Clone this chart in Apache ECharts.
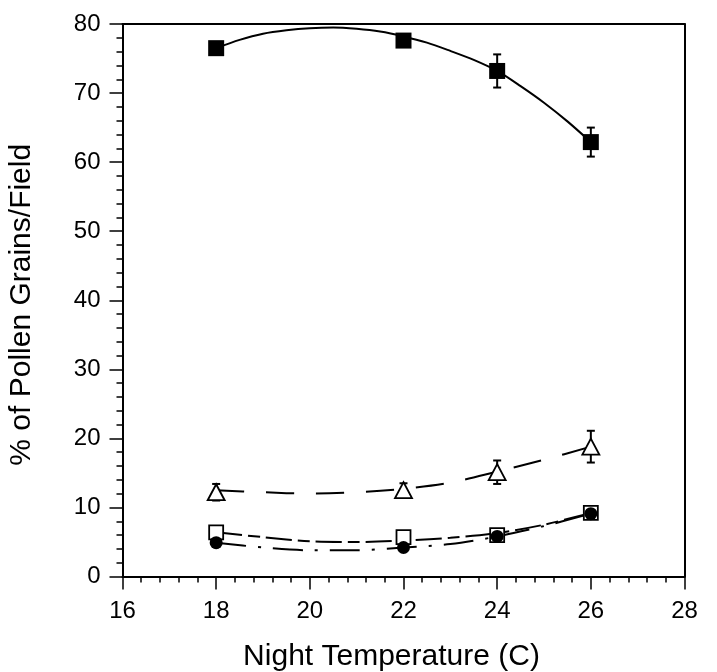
<!DOCTYPE html>
<html>
<head>
<meta charset="utf-8">
<script src="https://cdn.jsdelivr.net/npm/echarts@6/dist/echarts.min.js"></script>
<style>
html,body{margin:0;padding:0;background:#fff;}
#chart{width:717px;height:672px;}
</style>
</head>
<body>
<div id="chart"></div>
<script>
// Measured points (Night temperature, C)
const temps = [18, 22, 24, 26];
const filledSquares = [76.5, 77.6, 73.2, 62.9];
const filledSquaresErr = [0.8, 0.8, 2.4, 2.1];
const triangles = [12.2, 12.5, 15.1, 18.8];
const trianglesErr = [1.2, 1.0, 1.7, 2.3];
const openSquares = [6.4, 5.7, 6.0, 9.2];
const openSquaresErr = [0.4, 0.4, 0.6, 0.6];
const circles = [4.9, 4.2, 5.8, 9.1];
const circlesErr = [0.4, 0.4, 0.6, 0.6];

// Fitted curves
const filledCurveX = [18, 18.5, 19, 19.5, 20, 20.5, 21, 21.5, 22, 22.5, 23, 23.5, 24, 24.5, 25, 25.5, 26];
const filledSquaresCurve = [76.5, 77.7, 78.6, 79.1, 79.4, 79.5, 79.3, 78.9, 78.2, 77.3, 76.1, 74.8, 73.2, 71.0, 68.6, 65.9, 62.9];
const curveX = [18, 19, 20, 21, 22, 23, 24, 25, 26];
const trianglesCurve = [12.5, 12.2, 12.0, 12.2, 12.7, 13.6, 15.2, 16.9, 18.8];
const openSquaresCurve = [6.4, 5.7, 5.1, 5.0, 5.2, 5.6, 6.3, 7.5, 9.2];
const circlesCurve = [4.9, 4.2, 3.8, 3.8, 4.2, 4.7, 5.8, 7.3, 9.1];

const xTicks = [16, 18, 20, 22, 24, 26, 28];
const yTicks = [0, 10, 20, 30, 40, 50, 60, 70, 80];

const FONT = '"Liberation Sans", Arial, Helvetica, sans-serif';

function pairs(xs, ys) { return xs.map((x, i) => [x, ys[i]]); }
function errData(xs, ys, es) { return xs.map((x, i) => [x, ys[i] - es[i], ys[i] + es[i]]); }

function errorBarRender(params, api) {
  const x = api.value(0);
  const lo = api.coord([x, api.value(1)]);
  const hi = api.coord([x, api.value(2)]);
  const w = 4;
  const style = { stroke: '#000', lineWidth: 2, fill: null };
  return {
    type: 'group',
    children: [
      { type: 'line', shape: { x1: hi[0], y1: hi[1], x2: lo[0], y2: lo[1] }, style: style },
      { type: 'line', shape: { x1: hi[0] - w, y1: hi[1], x2: hi[0] + w, y2: hi[1] }, style: style },
      { type: 'line', shape: { x1: lo[0] - w, y1: lo[1], x2: lo[0] + w, y2: lo[1] }, style: style }
    ]
  };
}

function errSeries(data) {
  return {
    type: 'custom', renderItem: errorBarRender, data: data,
    encode: { x: 0, y: [1, 2] }, z: 3, silent: true
  };
}

function curveSeries(data, type) {
  return {
    type: 'line', data: data, smooth: 0.3, showSymbol: false, symbol: 'none',
    lineStyle: { color: '#000', width: 2, type: type }, z: 2, silent: true
  };
}

const chart = echarts.init(document.getElementById('chart'), null, { renderer: 'canvas' });

const axisLabelStyle = { color: '#000', fontSize: 24, fontFamily: FONT };

chart.setOption({
  animation: false,
  backgroundColor: '#fff',
  grid: { left: 122.5, right: 32.5, top: 24, bottom: 95.5, containLabel: false, outerBoundsMode: 'none' },
  xAxis: [{
    type: 'value', min: xTicks[0], max: xTicks[xTicks.length - 1], interval: 2,
    name: 'Night Temperature (C)', nameLocation: 'middle', nameGap: 65,
    nameTextStyle: { color: '#000', fontSize: 30, fontFamily: FONT, padding: [0, 24, 0, 0] },
    axisLine: { show: true, onZero: false, lineStyle: { color: '#000', width: 2 } },
    axisTick: { show: true, inside: false, length: 13, lineStyle: { color: '#000', width: 1.5 } },
    minorTick: { show: true, splitNumber: 5, length: 6, lineStyle: { color: '#000', width: 1.5 } },
    axisLabel: Object.assign({ margin: 23 }, axisLabelStyle),
    splitLine: { show: false }
  }, {
    type: 'value', position: 'top', min: xTicks[0], max: xTicks[xTicks.length - 1], interval: 2,
    axisLine: { show: true, onZero: false, lineStyle: { color: '#000', width: 2 } },
    axisTick: { show: false }, axisLabel: { show: false }, splitLine: { show: false }
  }],
  yAxis: [{
    type: 'value', min: yTicks[0], max: yTicks[yTicks.length - 1], interval: 10,
    name: '% of Pollen Grains/Field', nameLocation: 'middle', nameGap: 86,
    nameTextStyle: { color: '#000', fontSize: 30, fontFamily: FONT, padding: [0, 9, 0, 0] },
    axisLine: { show: true, onZero: false, lineStyle: { color: '#000', width: 2 } },
    axisTick: { show: true, inside: false, length: 13, lineStyle: { color: '#000', width: 1.5 } },
    minorTick: { show: true, splitNumber: 5, length: 6, lineStyle: { color: '#000', width: 1.5 } },
    axisLabel: Object.assign({ margin: 22 }, axisLabelStyle),
    splitLine: { show: false }
  }, {
    type: 'value', position: 'right', min: yTicks[0], max: yTicks[yTicks.length - 1], interval: 10,
    axisLine: { show: true, onZero: false, lineStyle: { color: '#000', width: 2 } },
    axisTick: { show: false }, axisLabel: { show: false }, splitLine: { show: false }
  }],
  series: [
    curveSeries(pairs(filledCurveX, filledSquaresCurve), 'solid'),
    curveSeries(pairs(curveX, trianglesCurve), [28, 22]),
    curveSeries(pairs(curveX, openSquaresCurve), [26, 6, 12, 6]),
    curveSeries(pairs(curveX, circlesCurve), [30, 12, 3, 12]),
    errSeries(errData(temps, filledSquares, filledSquaresErr)),
    errSeries(errData(temps, triangles, trianglesErr)),
    errSeries(errData(temps, openSquares, openSquaresErr)),
    errSeries(errData(temps, circles, circlesErr)),
    {
      type: 'scatter', data: pairs(temps, filledSquares), symbol: 'rect', symbolSize: 16,
      itemStyle: { color: '#000', opacity: 1 }, z: 5, silent: true
    },
    {
      type: 'scatter', data: pairs(temps, triangles), symbol: 'triangle', symbolSize: [17, 16],
      itemStyle: { color: '#fff', borderColor: '#000', borderWidth: 1.8, opacity: 1 }, z: 5, silent: true
    },
    {
      type: 'scatter', data: pairs(temps, openSquares), symbol: 'rect', symbolSize: 14,
      itemStyle: { color: '#fff', borderColor: '#000', borderWidth: 1.8, opacity: 1 }, z: 5, silent: true
    },
    {
      type: 'scatter', data: pairs(temps, circles), symbol: 'circle', symbolSize: 13,
      itemStyle: { color: '#000', opacity: 1 }, z: 6, silent: true
    }
  ]
});
</script>
</body>
</html>
